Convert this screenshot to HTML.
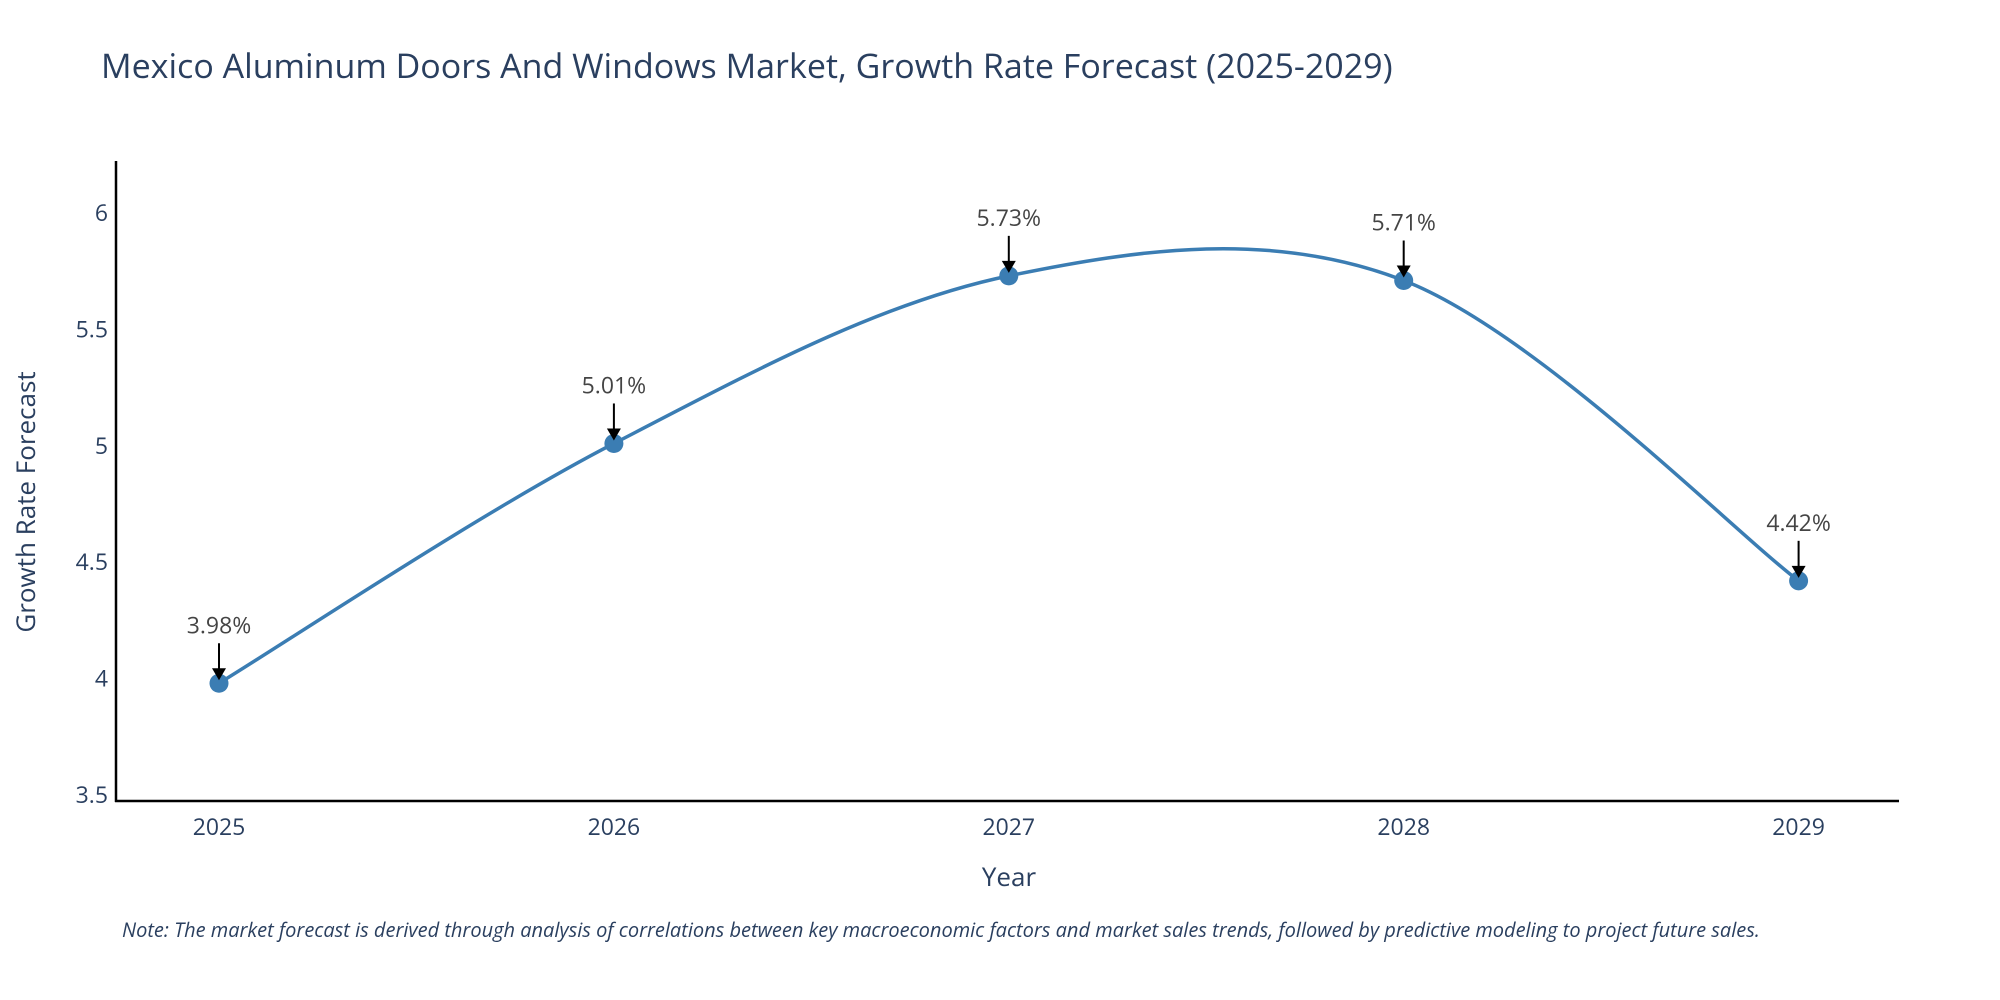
<!DOCTYPE html>
<html><head><meta charset="utf-8">
<style>
html,body{margin:0;padding:0;background:#fff;}
svg{display:block;font-family:"Open Sans","Liberation Sans",sans-serif;}
</style></head>
<body>
<svg id="chart" width="2000" height="1000" viewBox="0 0 2000 1000">
<text x="101" y="78" font-size="34" fill="#2a3f5f">Mexico Aluminum Doors And Windows Market, Growth Rate Forecast (2025-2029)</text>
<g id="yticks"></g>
<g id="xticks"></g>
<path id="curve" fill="none" stroke="#3b7db3" stroke-width="3.5"/>
<g id="points"></g>
<g id="annots"></g>
<line x1="116" y1="161" x2="116" y2="802" stroke="#000" stroke-width="2.5"/>
<line x1="115" y1="801" x2="1899" y2="801" stroke="#000" stroke-width="2.5"/>
<text x="1009" y="886" font-size="26" fill="#2a3f5f" text-anchor="middle">Year</text>
<text transform="translate(35,502) rotate(-90)" font-size="26" fill="#2a3f5f" text-anchor="middle">Growth Rate Forecast</text>
<text x="122" y="937" font-size="20" font-style="italic" fill="#2a3f5f">Note: The market forecast is derived through analysis of correlations between key macroeconomic factors and market sales trends, followed by predictive modeling to project future sales.</text>
</svg>
<script>
const years = [2025, 2026, 2027, 2028, 2029];
const growth = [3.98, 5.01, 5.73, 5.71, 4.42];
const labels = ["3.98%", "5.01%", "5.73%", "5.71%", "4.42%"];
const yTicks = [3.5, 4, 4.5, 5, 5.5, 6];
const yTickLabels = ["3.5", "4", "4.5", "5", "5.5", "6"];

const NS = "http://www.w3.org/2000/svg";
function xs(v){ return 219 + (v - 2025) * 394.9; }
function ys(v){ return 795 - (v - 3.5) * 232.8; }
function mk(tag, attrs, parent){ const e=document.createElementNS(NS,tag); for(const k in attrs) e.setAttribute(k, attrs[k]); parent.appendChild(e); return e; }

const yg=document.getElementById('yticks');
yTicks.forEach((t,i)=>{
  const e=mk('text',{x:108,y:ys(t)+8,'font-size':23,fill:'#2a3f5f','text-anchor':'end'},yg);
  
  
  e.textContent=yTickLabels[i];
});
const xg=document.getElementById('xticks');
years.forEach(y=>{
  const e=mk('text',{x:xs(y),y:835,'font-size':23,fill:'#2a3f5f','text-anchor':'middle'},xg);
  
  
  e.textContent=String(y);
});

const pts=years.map((y,i)=>[xs(y),ys(growth[i])]);
let d=`M${pts[0][0]},${pts[0][1]}`;
const tension=0.5;
for(let i=0;i<pts.length-1;i++){
  const p0=pts[Math.max(0,i-1)],p1=pts[i],p2=pts[i+1],p3=pts[Math.min(pts.length-1,i+2)];
  const c1=[p1[0]+(p2[0]-p0[0])*tension/3,p1[1]+(p2[1]-p0[1])*tension/3];
  const c2=[p2[0]-(p3[0]-p1[0])*tension/3,p2[1]-(p3[1]-p1[1])*tension/3];
  d+=` C${c1[0]},${c1[1]} ${c2[0]},${c2[1]} ${p2[0]},${p2[1]}`;
}
document.getElementById('curve').setAttribute('d',d);

const pg=document.getElementById('points'), ag=document.getElementById('annots');
pts.forEach((p,i)=>{
  const c=mk('circle',{cx:p[0],cy:p[1],r:9.5,fill:'#3b7db3'},pg);
  
  
  const l=mk('line',{x1:p[0],y1:p[1]-40,x2:p[0],y2:p[1]-12,stroke:'#000','stroke-width':2},ag);
  
  
  const h=mk('polygon',{points:`${p[0]-7},${p[1]-15} ${p[0]+7},${p[1]-15} ${p[0]},${p[1]-3}`,fill:'#000'},ag);
  
  
  const t=mk('text',{x:p[0],y:p[1]-50,'font-size':23,fill:'#444','text-anchor':'middle'},ag);
  
  
  t.textContent=labels[i];
});
</script>
</body></html>
